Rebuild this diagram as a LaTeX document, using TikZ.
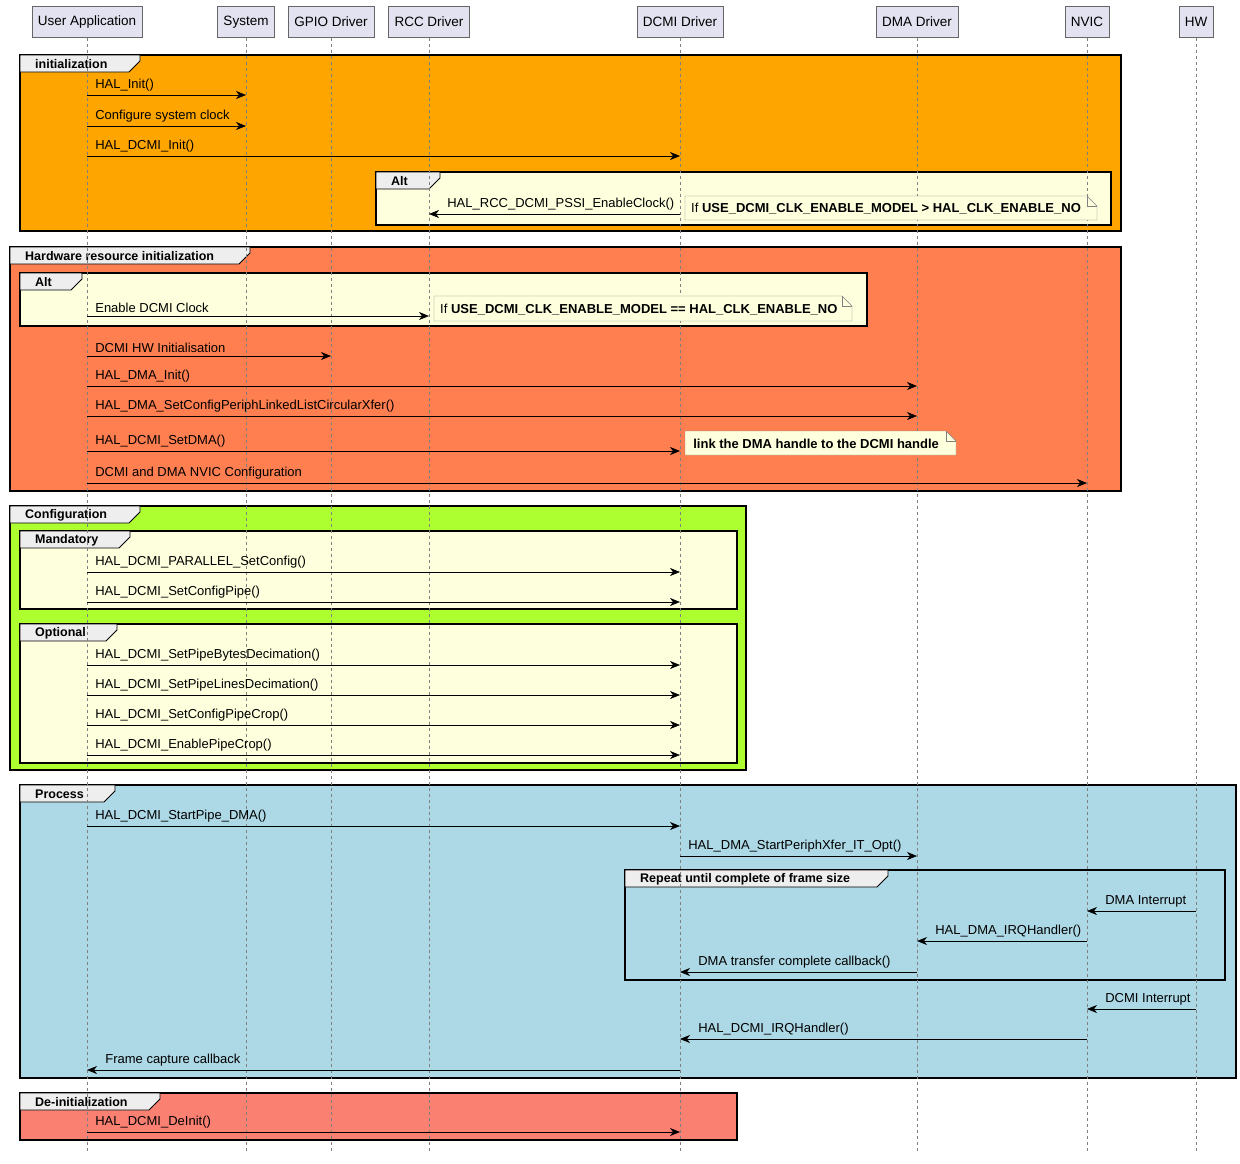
\documentclass[tikz,border=0pt]{standalone}
\usepackage{fontspec}
\setmainfont{Liberation Sans}
\usetikzlibrary{arrows.meta}

\definecolor{headfill}{HTML}{E2E2F0}
\definecolor{notefill}{HTML}{FEFFDD}
\definecolor{tabfill}{HTML}{EEEEEE}
\definecolor{initfill}{HTML}{FFA500}
\definecolor{hwfill}{HTML}{FF7F50}
\definecolor{cfgfill}{HTML}{ADFF2F}
\definecolor{procfill}{HTML}{ADD8E6}
\definecolor{deinitfill}{HTML}{FA8072}

% message: from, to, y, label (label near the start, or after the tip if leftwards)
\newcommand\msgR[4]{\draw[msg] (#1 |- 0,#3) -- node[lbl, at start, xshift=8pt]{#4} (#2 |- 0,#3);}
\newcommand\msgL[4]{\draw[msg] (#1 |- 0,#3) -- node[lbl, at end, xshift=18pt]{#4} (#2 |- 0,#3);}
% group: x0, y0, x1, y1, fill, label, tab width
\newcommand\grp[7]{%
  \draw[line width=1.4pt, fill=#5] (#1,#2) rectangle (#3,#4);
  \draw[line width=0.8pt, fill=tabfill] (#1,#2) -- (#1+#7,#2) -- (#1+#7,#2+6) -- (#1+#7-11,#2+17) -- (#1,#2+17) -- cycle;
  \node[anchor=west, font=\bfseries\fontsize{12.5}{14}\selectfont, inner sep=0pt] at (#1+15,#2+9.5) {#6};}
% note: x0, y0, x1, y1, text
\newcommand\note[5]{%
  \draw[draw=gray, fill=notefill] (#1,#2) -- (#3-10,#2) -- (#3,#2+10) -- (#3,#4) -- (#1,#4) -- cycle;
  \draw[draw=gray] (#3-10,#2) -- (#3-10,#2+10) -- (#3,#2+10);
  \node[anchor=west, font=\fontsize{13}{15}\selectfont, inner sep=0pt] at (#1+6,#2/2+#4/2+1) {#5};}

\begin{document}
\begin{tikzpicture}[x=1pt, y=-1pt,
  head/.style={draw=gray!80!black, fill=headfill, minimum height=31pt, inner xsep=6pt, font=\fontsize{13.5}{15}\selectfont},
  msg/.style={-{Stealth[length=10pt, width=8pt, inset=3pt]}, line width=0.7pt},
  lbl/.style={anchor=south west, inner sep=0pt, yshift=3pt, font=\fontsize{13}{15}\selectfont},
  life/.style={dashed, gray, line width=0.4pt}]
\useasboundingbox (0,0) rectangle (1240,1163);

\node[head] (ua)   at (87,22)   {User Application};
\node[head] (sys)  at (246,22)  {System};
\node[head] (gpio) at (331,22)  {GPIO Driver};
\node[head] (rcc)  at (429,22)  {RCC Driver};
\node[head] (dcmi) at (680,22)  {DCMI Driver};
\node[head] (dma)  at (917,22)  {DMA Driver};
\node[head] (nvic) at (1087,22) {NVIC};
\node[head] (hw)   at (1196,22) {HW};

% groups
\grp{20}{55}{1121}{231}{initfill}{initialization}{120}
\grp{376}{172}{1111}{225}{notefill}{Alt}{64}
\grp{10}{247}{1121}{491}{hwfill}{Hardware resource initialization}{240}
\grp{20}{273}{867}{326}{notefill}{Alt}{62}
\grp{10}{506}{746}{770}{cfgfill}{Configuration}{130}
\grp{20}{531}{737}{609}{notefill}{Mandatory}{110}
\grp{20}{624}{737}{763}{notefill}{Optional}{97}
\grp{20}{785}{1236}{1078}{procfill}{Process}{95}
\grp{625}{870}{1225}{980}{procfill}{Repeat until complete of frame size}{263}
\grp{20}{1093}{737}{1140}{deinitfill}{De-initialization}{140}

% lifelines
\foreach \p in {ua,sys,gpio,rcc,dcmi,dma,nvic,hw}
  \draw[life] (\p.south) -- (\p |- 0,1152);

% initialization
\msgR{ua}{sys}{95}{HAL\_Init()}
\msgR{ua}{sys}{126}{Configure system clock}
\msgR{ua}{dcmi}{156}{HAL\_DCMI\_Init()}
\msgL{dcmi}{rcc}{214}{HAL\_RCC\_DCMI\_PSSI\_EnableClock()}
\note{685}{196}{1097}{220}{If \textbf{USE\_DCMI\_CLK\_ENABLE\_MODEL > HAL\_CLK\_ENABLE\_NO}}

% hardware resources
\msgR{ua}{rcc}{316}{Enable DCMI Clock}
\note{434}{296}{852}{321}{If \textbf{USE\_DCMI\_CLK\_ENABLE\_MODEL == HAL\_CLK\_ENABLE\_NO}}
\msgR{ua}{gpio}{356}{DCMI HW Initialisation}
\msgR{ua}{dma}{386}{HAL\_DMA\_Init()}
\msgR{ua}{dma}{416}{HAL\_DMA\_SetConfigPeriphLinkedListCircularXfer()}
\msgR{ua}{dcmi}{451}{HAL\_DCMI\_SetDMA()}
\note{685}{431}{956}{455}{\textbf{\,link the DMA handle to the DCMI handle}}
\msgR{ua}{nvic}{483}{DCMI and DMA NVIC Configuration}

% configuration
\msgR{ua}{dcmi}{572}{HAL\_DCMI\_PARALLEL\_SetConfig()}
\msgR{ua}{dcmi}{602}{HAL\_DCMI\_SetConfigPipe()}
\msgR{ua}{dcmi}{665}{HAL\_DCMI\_SetPipeBytesDecimation()}
\msgR{ua}{dcmi}{695}{HAL\_DCMI\_SetPipeLinesDecimation()}
\msgR{ua}{dcmi}{725}{HAL\_DCMI\_SetConfigPipeCrop()}
\msgR{ua}{dcmi}{755}{HAL\_DCMI\_EnablePipeCrop()}

% process
\msgR{ua}{dcmi}{826}{HAL\_DCMI\_StartPipe\_DMA()}
\msgR{dcmi}{dma}{856}{HAL\_DMA\_StartPeriphXfer\_IT\_Opt()}
\msgL{hw}{nvic}{911}{DMA Interrupt}
\msgL{nvic}{dma}{941}{HAL\_DMA\_IRQHandler()}
\msgL{dma}{dcmi}{972}{DMA transfer complete callback()}
\msgL{hw}{nvic}{1009}{DCMI Interrupt}
\msgL{nvic}{dcmi}{1039}{HAL\_DCMI\_IRQHandler()}
\msgL{dcmi}{ua}{1070}{Frame capture callback}

% de-initialization
\msgR{ua}{dcmi}{1132}{HAL\_DCMI\_DeInit()}
\end{tikzpicture}
\end{document}
